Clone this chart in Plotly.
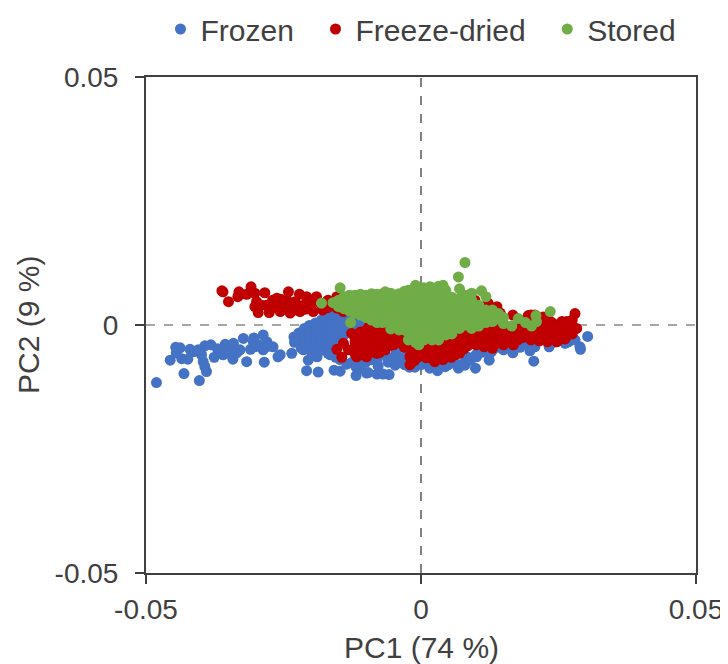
import plotly.graph_objects as go

# PCA scores, in units of 0.001: (PC1, PC2)
frozen_scores = [
(-48.1,-11.6),(-45.6,-7.1),(-43.1,-9.8),(-40.3,-11.2),(-39.0,-9.4),(-44.6,-4.5),(-43.8,-4.6),(-43.5,-6.8),(-42.4,-6.9),
(-42.0,-4.9),(-41.4,-5.4),(-39.9,-6.0),(-39.6,-7.4),(-39.3,-8.4),(-39.3,-4.2),(-38.2,-4.0),(-37.6,-6.5),(-36.5,-5.0),
(-35.6,-3.9),(-35.3,-5.7),(-34.2,-6.9),(-34.1,-3.7),(-32.3,-2.7),(-32.9,-5.0),(-31.7,-7.4),(-30.4,-2.6),(-28.7,-2.0),
(-30.2,-4.4),(-28.5,-7.5),(-28.7,-5.0),(-26.9,-4.4),(-26.0,-6.4),(-25.6,-6.0),(-23.5,-5.7),(-21.4,-5.0),(-20.5,-7.1),
(-18.9,-6.4),(-20.8,-9.2),(-18.7,-9.5),(-15.8,-9.1),(-14.7,-9.3),(-11.8,-8.5),(-11.8,-10.2),(-9.9,-9.7),
(-37.0,-4.8),(-36.0,-6.0),(-33.5,-5.6),(-31.0,-4.9),(-30.5,-3.4),(-29.5,-4.0),(-28.0,-3.4),(-27.8,-4.3),(-40.5,-5.0),
(-44.5,-5.6),(-34.5,-5.2),
(-23.1,-2.4),(-23.0,-3.5),(-22.2,-1.6),(-22.0,-2.6),(-22.1,-3.6),(-21.8,-4.6),(-21.2,-0.7),(-21.0,-1.7),(-21.1,-2.8),
(-20.9,-3.8),(-20.8,-4.7),(-20.3,-0.1),(-20.1,-1.2),(-20.0,-2.2),(-20.2,-3.3),(-19.9,-4.3),(-20.0,-5.3),(-19.2,0.4),
(-19.0,-0.6),(-19.1,-1.6),(-18.9,-2.6),(-19.0,-3.7),(-18.8,-4.7),(-18.8,-5.6),(-18.1,1.0),(-18.0,0.0),(-18.2,-1.0),
(-17.9,-2.0),(-18.0,-3.0),(-18.1,-4.0),(-17.9,-5.0),(-17.2,1.6),(-17.0,0.6),(-17.1,-0.4),(-16.9,-1.5),(-17.0,-2.5),
(-17.1,-3.5),(-16.8,-4.5),(-16.9,-5.7),(-16.1,2.0),(-16.0,1.0),(-16.2,0.0),(-16.0,-1.0),(-15.9,-2.0),(-16.1,-3.0),
(-16.0,-4.0),(-16.1,-5.0),(-15.0,1.8),(-15.1,0.8),(-14.9,-0.2),(-15.0,-1.2),(-15.1,-2.2),(-15.0,-3.0),(-15.0,-4.0),
(-14.0,1.8),(-14.1,0.8),(-13.9,-0.2),(-14.0,-1.1),(-14.0,-2.0),(-13.1,1.9),(-13.0,1.0),(-13.0,0.0),(-13.0,-1.0),
(-12.0,1.5),(-12.0,0.5),(-12.0,-0.5),(-11.0,1.5),(-11.0,0.5),(-11.0,-0.8),(-10.0,1.0),(-10.0,-0.5),(-9.0,-0.5),
(-16.5,-6.0),(-15.5,-6.5),(-14.7,-7.0),(-13.5,-7.9),(-12.5,-7.5),(-11.0,-7.5),(-10.0,-7.5),(-9.0,-7.0),(-8.0,-7.0),
(30.3,-2.3),(28.9,-4.4),(29.0,-4.9),(26.8,-3.4),(26.2,-3.7),(23.3,-4.4),(20.5,-7.3),(20.7,-4.4),(19.8,-5.2),(18.6,-3.7),
(16.7,-5.6),(15.0,-5.0),(12.4,-7.1),(9.9,-8.7),(12.8,-5.4),(6.8,-8.7),(8.0,-8.1),(10.1,-6.4),(4.4,-8.4),(3.0,-9.2),
(1.6,-8.7),(-1.1,-8.5),(-2.1,-8.5),(-4.7,-8.1),(-5.8,-10.0),(-6.9,-9.9),(-8.0,-9.9),(-9.6,-9.6),(-7.8,-8.3),(-11.0,-8.7),
(-6.5,-6.0),(-6.0,-7.5),(-5.0,-6.5),(-4.0,-7.5),(-4.5,-5.5),(-3.0,-6.5),(-3.0,-8.0),(-2.0,-7.0),(-1.0,-7.5),(0.0,-8.0),
(1.0,-7.5),(2.0,-8.0),(3.0,-8.5),(4.0,-7.5),(5.0,-8.0),(6.0,-7.5),(7.0,-8.0),(8.0,-7.5),(8.5,-6.5),(9.0,-7.0),(10.0,-6.0),
(11.0,-5.5),(12.0,-5.5),(13.0,-5.0),(14.0,-4.5),(16.0,-4.0),(17.0,-4.0),(18.0,-4.5),(19.0,-3.5),(20.0,-3.5),(21.0,-3.5),
(22.0,-3.0),(24.0,-3.5),(25.0,-3.0),(27.0,-2.5),(28.0,-3.0),
]

freeze_dried_scores = [
(-36.2,6.9),(-36.0,6.7),(-35.0,4.7),(-33.1,6.7),(-33.3,5.7),(-30.9,7.7),(-31.7,6.2),(-30.2,6.4),(-28.4,6.5),(-29.9,4.7),
(-30.2,3.7),(-29.6,2.5),(-29.0,4.0),(-27.6,2.5),(-28.1,4.0),(-26.2,5.4),(-25.6,2.7),(-24.1,6.7),(-23.8,2.4),(-24.4,5.0),
(-25.0,4.0),(-26.5,4.0),(-22.1,6.2),(-22.0,2.7),(-22.9,4.7),(-20.8,5.7),(-21.4,4.0),(-19.0,5.7),(-19.6,2.7),(-19.9,4.4),
(-17.9,3.0),(-16.9,5.0),(-15.3,5.7),(-15.3,3.4),(-14.1,2.7),(-18.4,4.4),(-23.5,3.7),(-27.0,3.5),(-27.0,5.0),(-25.5,5.2),
(-24.0,4.0),(-23.0,3.0),(-21.0,3.2),(-20.0,5.0),(-18.0,4.0),(-17.0,3.5),(-16.0,4.0),
(-15.3,-4.9),(-14.4,-6.5),(-14.1,-3.7),(-12.6,-1.7),(-13.2,-5.0),(-12.0,-3.4),(-11.7,-6.4),(-10.8,-5.0),(-9.9,-1.0),(-9.6,-3.7),(-9.9,-6.4),
(-11.0,-3.2),(-11.0,-1.4),(-9.5,-5.7),(-9.5,-2.2),(-9.5,-0.4),(-8.0,-5.7),(-8.0,-4.0),(-8.0,-2.0),(-8.0,0.0),(-6.5,-5.0),
(-6.5,-3.3),(-6.5,-1.5),(-5.0,-4.0),(-5.0,-2.2),(-5.0,-0.7),(-3.5,-3.7),(-3.5,-2.0),(-2.0,-8.0),(-2.0,-6.4),(-2.0,-4.7),
(-2.0,-3.0),(-0.5,-6.4),(-0.5,-5.0),(-0.5,-3.8),(1.0,-6.6),(1.0,-5.2),(2.5,-7.4),(2.5,-5.8),(2.5,-4.2),(4.0,-7.0),(4.0,-5.3),
(4.0,-3.6),(4.0,-2.5),(5.5,-6.5),(5.5,-5.0),(5.5,-3.2),(7.0,-5.7),(7.0,-4.0),(7.0,-2.2),(8.5,-4.2),(8.5,-2.6),(8.5,-1.0),
(10.0,-4.0),(10.0,-2.4),(10.0,-1.0),(11.5,-4.4),(11.5,-2.8),(11.5,-1.2),(13.0,-4.7),(13.0,-3.0),(13.0,-1.2),(15.0,-4.0),
(15.0,-2.5),(15.0,-1.0),(16.8,-4.0),(16.8,-2.2),(16.8,-0.8),(18.5,-2.5),(18.5,-1.0),(18.5,0.5),(20.0,-3.0),(20.0,-1.4),
(20.0,0.2),(20.0,2.0),(21.5,-3.2),(21.5,-1.5),(21.5,0.3),(23.0,-3.4),(23.0,-1.8),(23.0,0.0),(23.2,1.0),(24.7,-3.4),
(24.7,-1.7),(24.7,0.0),(26.2,-2.8),(26.2,-1.0),(26.5,0.7),(25.6,0.7),(27.5,-1.8),(27.5,-0.3),(27.5,1.0),(28.3,-0.7),(28.0,2.3),
(20.7,2.0),(19.5,1.9),(16.7,2.0),(13.8,3.7),(12.2,4.4),(9.8,5.0),(7.4,5.0),(14.4,2.4),
(-12.0,-2.5),(-12.0,-4.5),(-12.0,-5.8),(-10.5,-2.5),(-10.5,-4.0),(-10.5,-6.0),(-9.0,-3.0),(-9.0,-4.8),(-9.0,-1.0),(-7.0,-4.5),
(-7.0,-2.8),(-7.0,-0.8),(-7.5,-5.5),(-5.8,-4.2),(-5.8,-2.6),(-5.8,-1.0),(-4.2,-3.2),(-4.2,-1.5),(-3.0,-4.5),(-3.0,-3.0),(-1.2,-7.2),
(-1.2,-5.8),(-1.2,-4.4),(0.0,-5.8),(0.0,-4.5),(0.0,-3.5),(1.8,-6.0),(1.8,-4.5),(1.8,-3.2),(3.2,-6.5),(3.2,-5.0),(3.2,-3.5),(4.8,-6.0),
(4.8,-4.4),(4.8,-2.8),(6.2,-6.0),(6.2,-4.5),(6.2,-2.6),(7.8,-4.8),(7.8,-3.3),(7.8,-1.5),(9.2,-3.3),(9.2,-1.8),(10.8,-3.2),(10.8,-1.6),
(10.8,-0.3),(12.2,-3.6),(12.2,-2.0),(12.2,-0.6),(14.0,-3.6),(14.0,-2.2),(14.0,-0.6),(15.8,-3.2),(15.8,-1.7),(17.6,-3.0),(17.6,-1.6),
(17.6,0.0),(19.2,-2.0),(19.2,-0.3),(19.2,1.2),(20.8,-2.3),(20.8,-0.8),(20.8,1.0),(22.2,-2.6),(22.2,-1.0),(22.2,0.5),(22.2,1.6),(23.8,-2.6),
(23.8,-1.0),(23.8,0.5),(25.4,-2.8),(25.4,-1.3),(25.4,0.2),(27.0,-1.0),(27.0,0.3),
]

stored_scores = [
(-18.1,4.4),(-14.7,7.5),(-12.8,0.5),(8.0,12.6),(6.8,9.7),(-16.0,4.5),(-15.0,3.7),(-15.0,5.0),(-14.0,3.3),(-14.0,4.5),(-14.0,5.7),
(-13.0,2.8),(-13.0,4.0),(-13.0,5.3),(-13.0,6.0),(-12.0,2.4),(-12.0,3.8),(-12.0,5.0),(-12.0,6.0),(-11.0,2.0),(-11.0,3.5),
(-11.0,5.0),(-11.0,6.2),(-10.0,1.5),(-10.0,3.0),(-10.0,4.5),(-10.0,6.0),(-9.0,1.0),(-9.0,2.5),(-9.0,4.0),(-9.0,5.5),(-9.0,6.3),
(-8.0,0.5),(-8.0,2.0),(-8.0,3.5),(-8.0,5.0),(-8.0,6.2),(-7.0,0.5),(-7.0,2.0),(-7.0,3.5),(-7.0,5.0),(-7.0,6.3),(-6.5,6.7),
(-5.5,-0.8),(-5.5,0.8),(-5.5,2.3),(-5.5,4.0),(-5.5,5.5),(-5.5,6.4),(-4.0,-1.0),(-4.0,0.5),(-4.0,2.0),(-4.0,3.5),(-4.0,5.0),(-4.0,6.3),
(-3.0,-1.0),(-3.0,0.5),(-3.0,2.0),(-3.0,3.5),(-3.0,5.0),(-3.0,6.8),(-2.3,-3.0),(-2.3,-1.5),(-2.3,0.0),(-2.3,1.5),(-2.3,3.0),
(-2.3,4.5),(-2.3,6.0),(-2.3,7.0),(-1.0,-3.5),(-1.0,-2.0),(-1.0,-0.5),(-1.0,1.0),(-1.0,2.5),(-1.0,4.0),(-1.0,5.5),(-1.0,7.0),(-1.0,8.0),
(-0.4,-4.0),(0.5,-3.0),(0.5,-1.5),(0.5,0.0),(0.5,1.5),(0.5,3.0),(0.5,4.5),(0.5,6.0),(0.5,7.5),(1.6,7.7),(2.0,-3.0),(2.0,-1.5),
(2.0,0.0),(2.0,1.5),(2.0,3.0),(2.0,4.5),(2.0,6.0),(2.0,7.5),(3.2,-3.0),(3.2,-1.5),(3.2,0.0),(3.2,1.5),(3.2,3.0),(3.2,4.5),(3.2,6.0),(3.2,7.8),
(4.0,8.0),(4.5,-2.0),(4.5,-0.5),(4.5,1.0),(4.5,2.5),(4.5,4.0),(4.5,5.5),(4.5,7.0),(5.6,-1.8),(5.6,-0.3),(5.6,1.2),(5.6,2.7),(5.6,4.2),(5.6,5.6),
(7.0,-0.7),(7.0,0.8),(7.0,2.3),(7.0,3.8),(7.0,5.3),(7.0,7.3),(8.0,0.0),(8.0,1.5),(8.0,3.0),(8.0,4.5),(8.0,6.0),(9.2,-0.7),(9.2,0.8),(9.2,2.3),
(9.2,3.8),(9.2,5.0),(9.2,6.4),(10.5,-0.2),(10.5,1.2),(10.5,2.6),(10.5,4.0),(11.0,6.9),(11.8,5.7),(11.8,0.5),(11.8,2.0),(11.8,3.0),
(13.0,0.7),(13.0,1.3),(13.0,2.5),(13.0,3.0),(14.1,1.2),(14.1,2.3),(15.0,0.3),(15.0,1.5),(16.5,-0.2),(17.7,1.3),(19.0,0.5),(20.1,-0.2),
(21.0,0.7),(20.9,1.9),(23.5,2.7),
]

series_names = ["Frozen", "Freeze-dried", "Stored"]
series_scores = [frozen_scores, freeze_dried_scores, stored_scores]
series_colors = ["#4472C4", "#C00000", "#70AD47"]
axis_ticks = [-0.05, 0, 0.05]
axis_tick_labels = ["-0.05", "0", "0.05"]
SCALE = 0.001
TEXT = "#404040"
FONT = "Liberation Sans"

fig = go.Figure()
for name, scores, color in zip(series_names, series_scores, series_colors):
    fig.add_trace(go.Scatter(
        x=[p[0] * SCALE for p in scores],
        y=[p[1] * SCALE for p in scores],
        mode="markers", name=name + "\u00a0\u00a0",
        marker=dict(size=11, color=color, line=dict(width=0)),
    ))

axis = dict(
    range=[-0.05, 0.05], tickmode="array", tickvals=axis_ticks, ticktext=axis_tick_labels,
    ticks="outside", ticklen=9, tickwidth=1.5, tickcolor=TEXT, showgrid=False, zeroline=False,
    showline=True, linecolor=TEXT, linewidth=2, mirror=True, automargin=False,
    tickfont=dict(size=28, color=TEXT, family=FONT),
)
fig.update_layout(
    width=720, height=656, autosize=False,
    margin=dict(l=138, r=32, t=69, b=91),
    paper_bgcolor="white", plot_bgcolor="white",
    font=dict(family=FONT, color=TEXT, size=28),
    xaxis=dict(axis, ticklabelstandoff=1),
    yaxis=dict(axis, ticklabelstandoff=11),
    legend=dict(orientation="h", xref="paper", x=0.5145, xanchor="center",
                yref="container", y=0.968, yanchor="middle",
                font=dict(size=30, color=TEXT, family=FONT), itemsizing="trace"),
    annotations=[
        dict(text="PC1 (74 %)", xref="paper", yref="paper", x=0.5, y=-74 / 496, xanchor="center", yanchor="middle",
             showarrow=False, font=dict(size=30, color=TEXT, family=FONT)),
        dict(text="PC2 (9 %)", xref="paper", yref="paper", x=-118 / 550, y=0.5, xanchor="center", yanchor="middle",
             textangle=-90, showarrow=False, font=dict(size=30, color=TEXT, family=FONT)),
    ],
    shapes=[
        dict(type="line", xref="x", yref="y", x0=-0.05, x1=0.05, y0=0, y1=0, layer="below",
             line=dict(color="#A6A6A6", width=2, dash="dash")),
        dict(type="line", xref="x", yref="y", x0=0, x1=0, y0=-0.05, y1=0.05, layer="below",
             line=dict(color="#595959", width=1.5, dash="dash")),
    ],
)
fig.write_html("out.html")
